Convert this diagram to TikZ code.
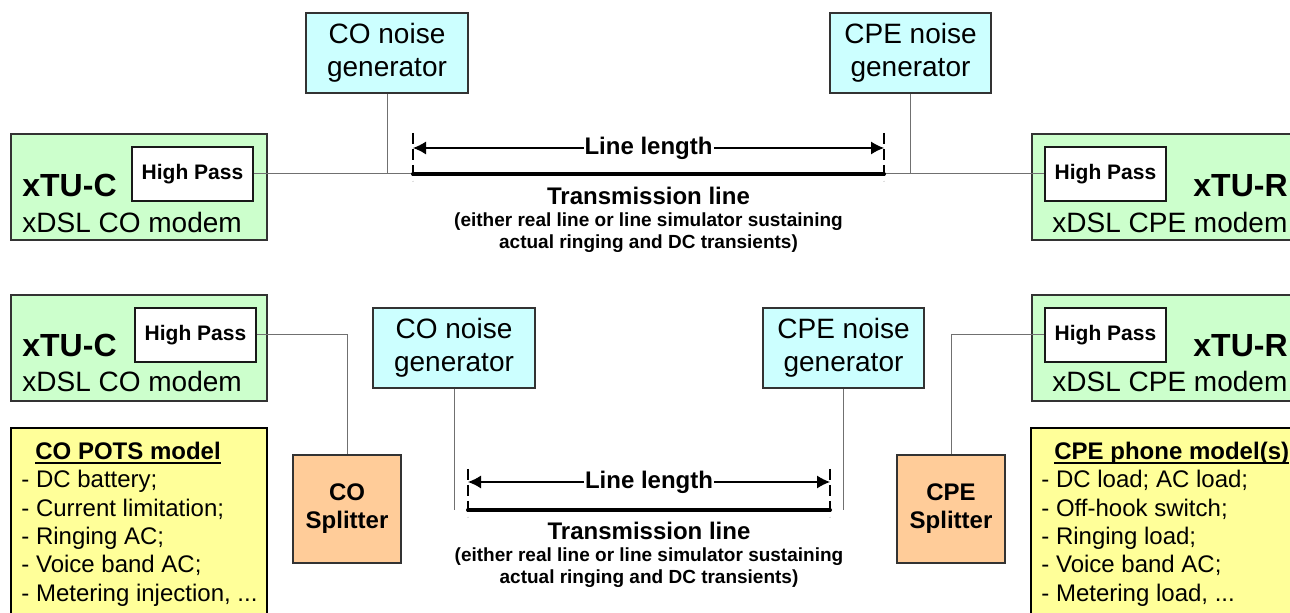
\documentclass[tikz,border=0pt]{standalone}
\usepackage{fontspec}
\setmainfont{Liberation Sans}
\usetikzlibrary{arrows.meta}
\definecolor{modemgreen}{HTML}{CCFFCC}
\definecolor{noisecyan}{HTML}{CCFFFF}
\definecolor{splitpeach}{HTML}{FFCC99}
\definecolor{potsyellow}{HTML}{FFFF99}
\definecolor{wiregray}{HTML}{707070}
\definecolor{edgegray}{HTML}{333333}
\begin{document}
\begin{tikzpicture}[x=0.5pt,y=-0.5pt,
  modembox/.style={draw=edgegray, fill=modemgreen, line width=0.6pt, inner sep=0pt, minimum height=53pt},
  hpbox/.style={draw=black!90, fill=white, line width=0.6pt, inner sep=0pt,
    minimum width=60.5pt, minimum height=27pt, font=\bfseries\fontsize{10.5pt}{12pt}\selectfont},
  noisebox/.style={draw=edgegray, fill=noisecyan, line width=0.6pt, inner sep=0pt,
    minimum width=81pt, minimum height=40pt, align=center, font=\fontsize{14pt}{16.5pt}\selectfont},
  splitbox/.style={draw=edgegray, fill=splitpeach, line width=0.6pt, inner sep=0pt,
    minimum width=54pt, minimum height=54pt, align=center, font=\bfseries\fontsize{12pt}{14pt}\selectfont},
  potsbox/.style={draw=black, fill=potsyellow, line width=1.3pt, inner sep=0pt, minimum height=106pt},
  wire/.style={draw=wiregray, line width=0.5pt},
  tline/.style={line width=2pt, line cap=round},
  marker/.style={dash pattern=on 5.5pt off 2.5pt, line width=0.7pt},
  dimline/.style={{Latex[length=6.5pt,width=6.5pt]}-{Latex[length=6.5pt,width=6.5pt]}, line width=0.6pt},
  bigbold/.style={font=\bfseries\fontsize{16pt}{19pt}\selectfont, anchor=base west, inner sep=0pt},
  modemtxt/.style={font=\fontsize{14pt}{16pt}\selectfont, anchor=base west, inner sep=0pt},
  lltxt/.style={font=\bfseries\fontsize{12pt}{14pt}\selectfont, fill=white, inner xsep=0.5pt, inner ysep=0pt},
  tltitle/.style={font=\bfseries\fontsize{12pt}{14pt}\selectfont, anchor=base, inner sep=0pt},
  tlsub/.style={font=\bfseries\fontsize{9.5pt}{11pt}\selectfont, anchor=base, inner sep=0pt},
  listtxt/.style={font=\fontsize{12pt}{14pt}\selectfont, anchor=base west, inner sep=0pt},
  listtitle/.style={font=\bfseries\fontsize{12pt}{14pt}\selectfont, anchor=base west, inner sep=0pt},
  uline/.style={line width=1pt}
]
\path[use as bounding box] (0,0) rectangle (1290,613);
\fill[white] (0,0) rectangle (1290,613);
\clip (0,0) rectangle (1290,613);

% ================= TOP SECTION =================
\node[modembox, minimum width=128pt] (modemC1) at (139,187) {};
\node[hpbox] (hpC1) at (192.5,174) {High Pass};
\node[bigbold] (xtucA) at (22,197) {xTU-C};
\node[modemtxt] (xdslcA) at (22,233) {xDSL CO modem};

\node[noisebox] (noiseC1) at (387,53) {CO noise\\generator};
\node[noisebox, minimum width=80.5pt] (noiseR1) at (910.5,53) {CPE noise\\generator};

\node[modembox, minimum width=144pt] (modemR1) at (1176,187) {};
\node[hpbox] (hpR1) at (1105.5,174) {High Pass};
\node[bigbold] (xturA) at (1193,197) {xTU-R};
\node[modemtxt] (xdslrA) at (1052,233) {xDSL CPE modem};

\coordinate (tl1) at (413,174);
\coordinate (tr1) at (884,174);
\coordinate (mla1) at (413,133);
\coordinate (mlb1) at (413,181);
\coordinate (mra1) at (884,133);
\coordinate (mrb1) at (884,181);
\coordinate (dl1) at (413,148);
\coordinate (dr1) at (884,148);

\draw[wire] (hpC1.east) -- (tl1);
\draw[wire] (noiseC1.south) -- (noiseC1.south |- tl1);
\draw[wire] (tr1) -- (hpR1.west);
\draw[wire] (noiseR1.south) -- (noiseR1.south |- tr1);
\draw[tline] (tl1) -- (tr1);
\draw[marker] (mla1) -- (mlb1);
\draw[marker] (mra1) -- (mrb1);
\draw[dimline] (dl1) -- (dr1);
\node[lltxt] (ll1) at (648.5,148) {Line length};
\node[tltitle] (tt1) at (648.5,205) {Transmission line};
\node[tlsub] (ts1a) at (648.5,227) {(either real line or line simulator sustaining};
\node[tlsub] (ts1b) at (648.5,249) {actual ringing and DC transients)};

% ================= BOTTOM SECTION =================
\node[modembox, minimum width=128pt] (modemC2) at (139,348) {};
\node[hpbox] (hpC2) at (195.5,335) {High Pass};
\node[bigbold] (xtucB) at (22,357) {xTU-C};
\node[modemtxt] (xdslcB) at (22,392) {xDSL CO modem};

\node[noisebox] (noiseC2) at (454,348) {CO noise\\generator};
\node[noisebox, minimum width=80.5pt] (noiseR2) at (843.5,348) {CPE noise\\generator};

\node[modembox, minimum width=144pt] (modemR2) at (1176,348) {};
\node[hpbox] (hpR2) at (1105.5,335) {High Pass};
\node[bigbold] (xturB) at (1193,357) {xTU-R};
\node[modemtxt] (xdslrB) at (1052,392) {xDSL CPE modem};

\node[splitbox] (splitC) at (347,509) {CO\\Splitter};
\node[splitbox] (splitR) at (951,509) {CPE\\Splitter};

\draw[wire] (hpC2.east) -| (splitC.north);
\draw[wire] (splitR.north) |- (hpR2.west);

\coordinate (tl2) at (468,510);
\coordinate (tr2) at (830,510);
\coordinate (mla2) at (468,469);
\coordinate (mlb2) at (468,517);
\coordinate (mra2) at (830,469);
\coordinate (mrb2) at (830,517);
\coordinate (dl2) at (468,482);
\coordinate (dr2) at (830,482);

\draw[wire] (noiseC2.south) -- (noiseC2.south |- tl2);
\draw[wire] (noiseR2.south) -- (noiseR2.south |- tr2);
\draw[tline] (tl2) -- (tr2);
\draw[marker] (mla2) -- (mlb2);
\draw[marker] (mra2) -- (mrb2);
\draw[dimline] (dl2) -- (dr2);
\node[lltxt] (ll2) at (649,482) {Line length};
\node[tltitle] (tt2) at (649,540) {Transmission line};
\node[tlsub] (ts2a) at (649,562) {(either real line or line simulator sustaining};
\node[tlsub] (ts2b) at (649,584) {actual ringing and DC transients)};

% CO POTS model
\node[potsbox, minimum width=128pt] (potsC) at (139,534) {};
\node[listtitle] (potsCt) at (35,460) {CO POTS model};
\draw[uline] ([yshift=-1.4pt]potsCt.base west) -- ([yshift=-1.4pt]potsCt.base east);
\node[listtxt] (potsC1) at (21,488) {- DC battery;};
\node[listtxt] (potsC2) at (21,517) {- Current limitation;};
\node[listtxt] (potsC3) at (21,545) {- Ringing AC;};
\node[listtxt] (potsC4) at (21,573) {- Voice band AC;};
\node[listtxt] (potsC5) at (21,602) {- Metering injection, ...};

% CPE phone model
\node[potsbox, minimum width=144.5pt] (potsR) at (1175.5,534) {};
\node[listtitle] (potsRt) at (1054,460) {CPE phone model(s)};
\draw[uline] ([yshift=-1.4pt]potsRt.base west) -- ([yshift=-1.4pt]potsRt.base east);
\node[listtxt] (potsR1) at (1041,488) {- DC load; AC load;};
\node[listtxt] (potsR2) at (1041,517) {- Off-hook switch;};
\node[listtxt] (potsR3) at (1041,545) {- Ringing load;};
\node[listtxt] (potsR4) at (1041,573) {- Voice band AC;};
\node[listtxt] (potsR5) at (1041,602) {- Metering load, ...};
\end{tikzpicture}
\end{document}
